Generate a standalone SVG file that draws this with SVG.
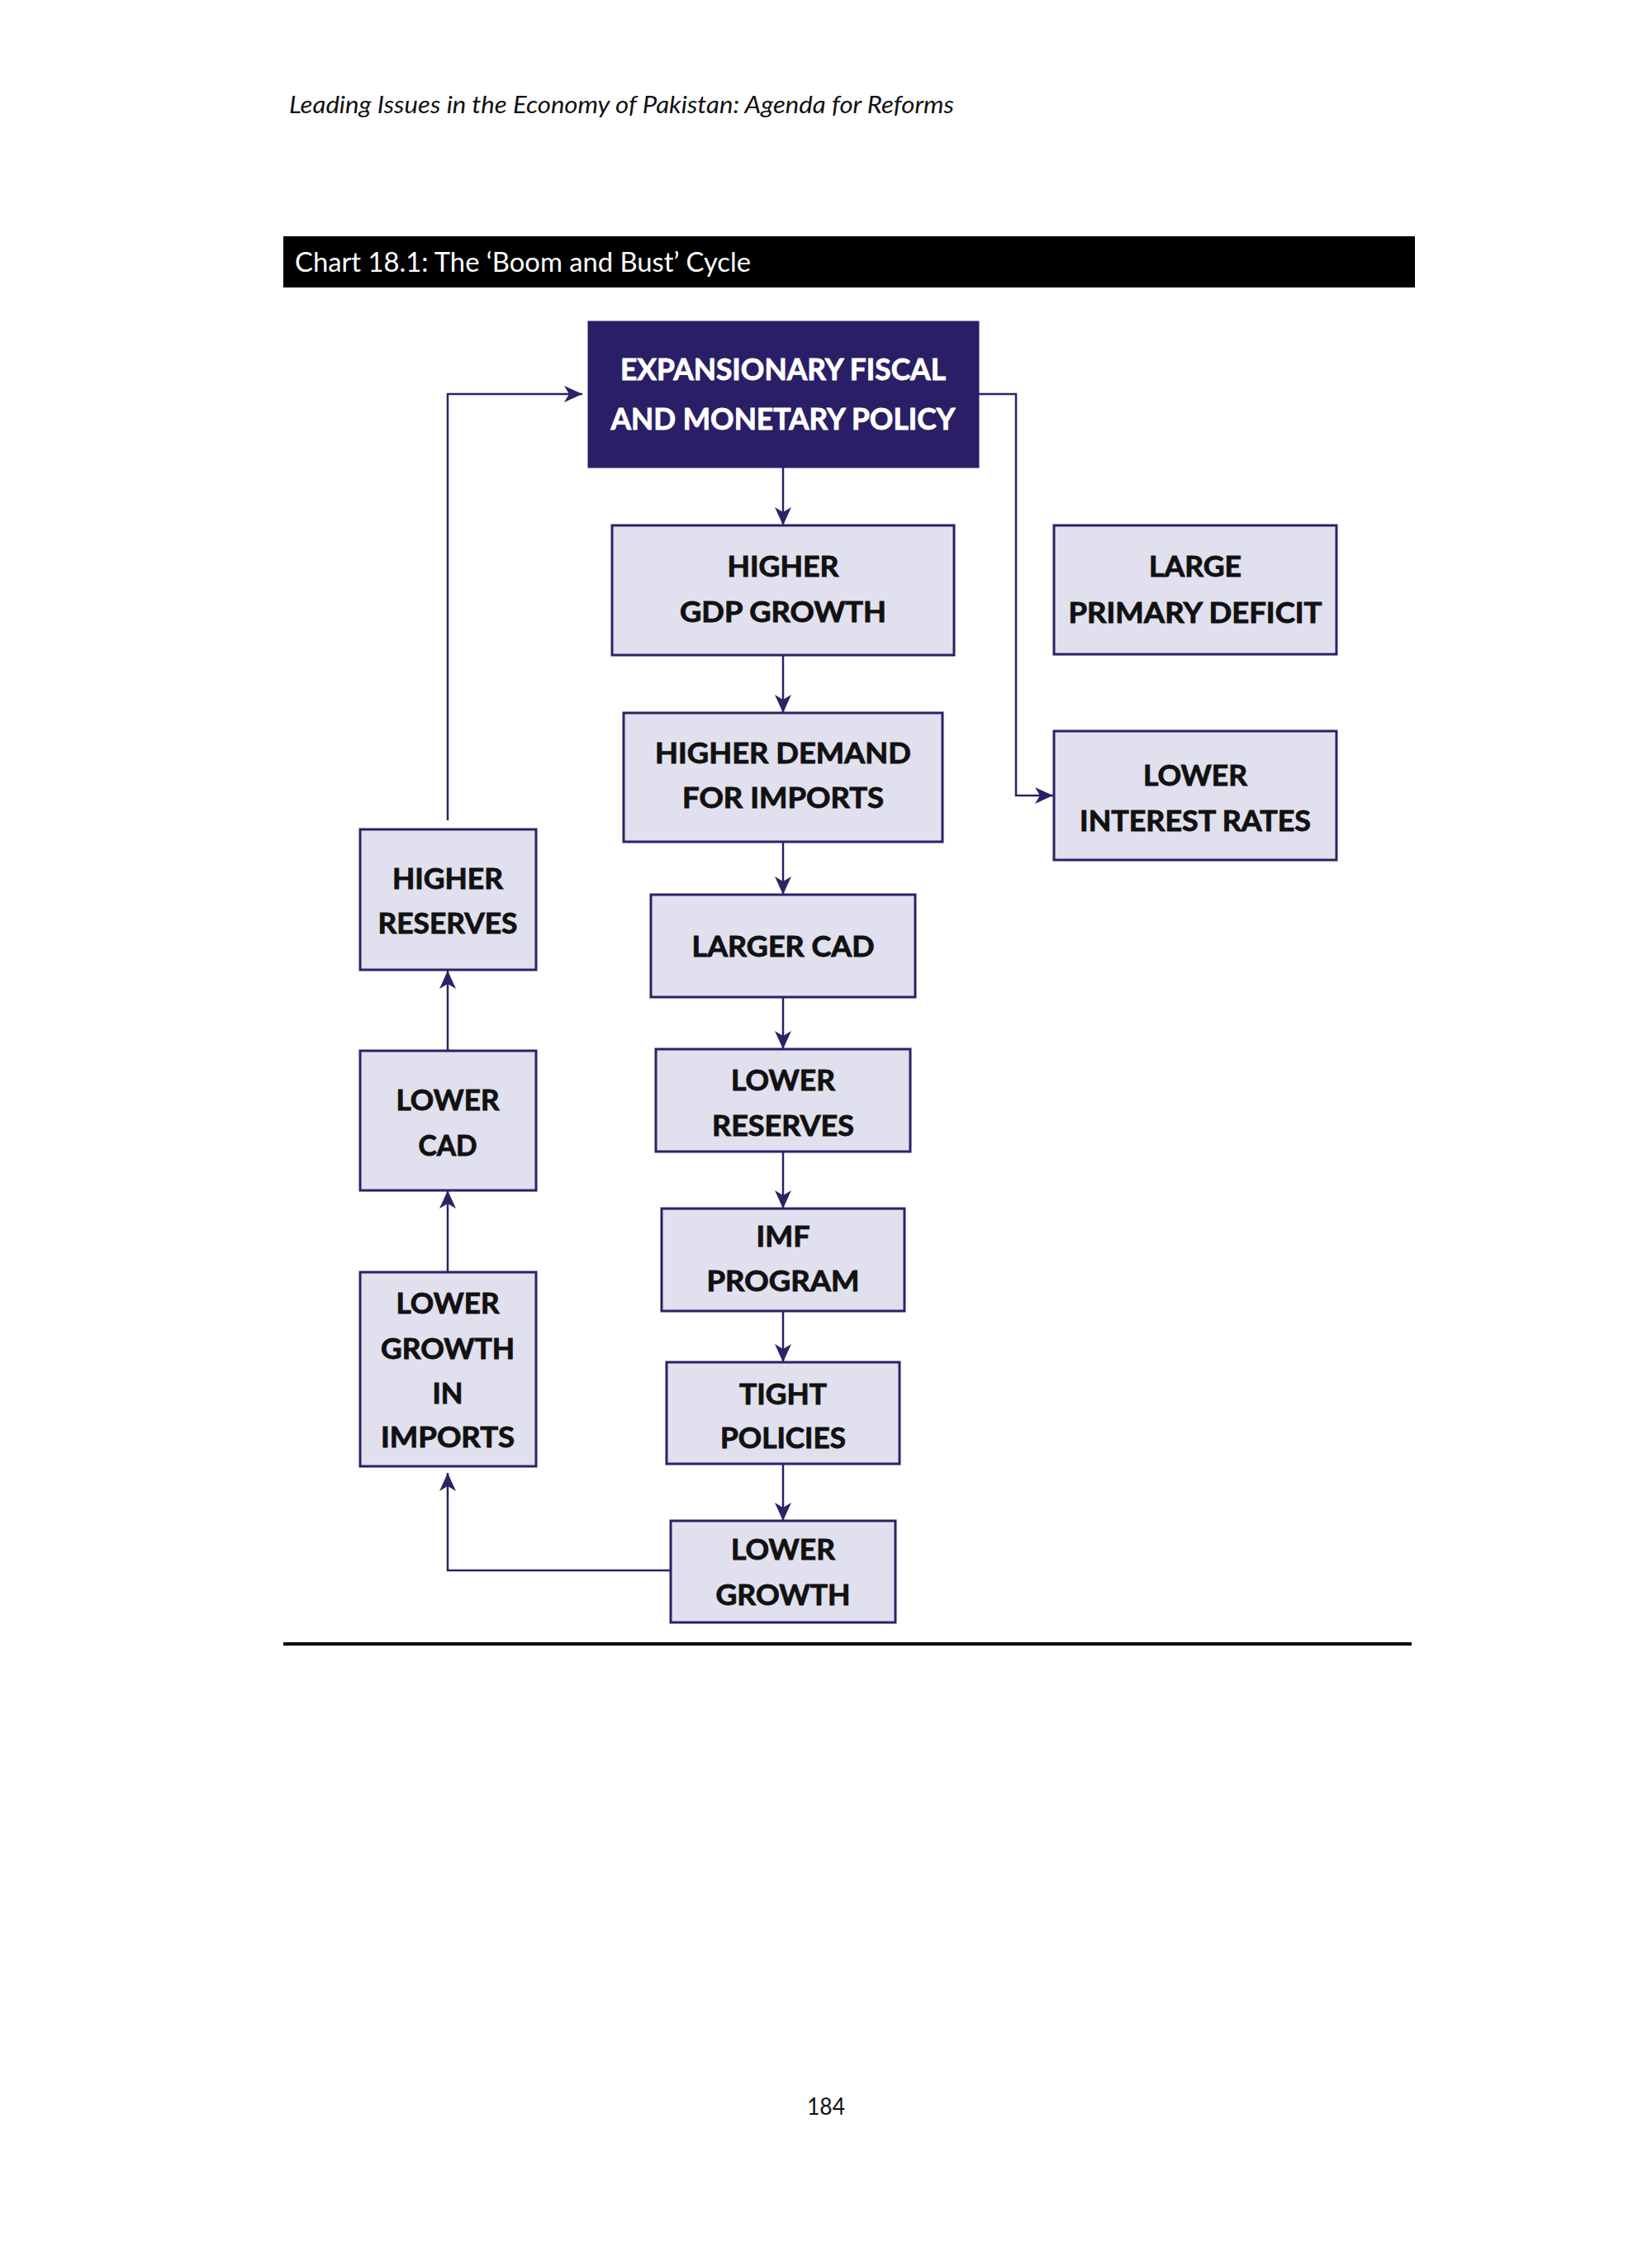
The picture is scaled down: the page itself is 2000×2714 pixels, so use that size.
<svg xmlns="http://www.w3.org/2000/svg" width="2000" height="2714" viewBox="0 0 2000 2714">
<style>
.box{fill:#e1e0ee;stroke:#2b2366;stroke-width:3}
.dark{fill:#2a1f66;stroke:#2a1f66;stroke-width:3}
.t{font-family:Lato,"Open Sans","Liberation Sans",sans-serif;font-weight:bold;font-size:35px;fill:#111;stroke:#111;stroke-width:0.9;text-anchor:middle}
.tw{fill:#ffffff;stroke:#ffffff;font-size:37px}
.con{fill:none;stroke:#2b2366;stroke-width:2.5}
</style>
<defs>
<marker id="arr" viewBox="0 0 22 20" refX="22" refY="10" markerWidth="22" markerHeight="20" markerUnits="userSpaceOnUse" orient="auto">
<path d="M0,0 L22,10 L0,20 L6,10 Z" fill="#2b2366"/>
</marker>
</defs>
<rect width="2000" height="2714" fill="#ffffff"/>
<text x="350" y="137" font-family="Lato,'Open Sans',sans-serif" font-style="italic" font-size="28" fill="#111" textLength="805" lengthAdjust="spacingAndGlyphs">Leading Issues in the Economy of Pakistan: Agenda for Reforms</text>
<rect x="343" y="286" width="1370" height="62" fill="#000"/>
<text x="357" y="329" font-family="Lato,'Open Sans',sans-serif" font-size="33" fill="#fff" textLength="552" lengthAdjust="spacingAndGlyphs">Chart 18.1: The ‘Boom and Bust’ Cycle</text>

<g id="connectors">
<path class="con" d="M948,565 V636" marker-end="url(#arr)"/>
<path class="con" d="M948,793 V863" marker-end="url(#arr)"/>
<path class="con" d="M948,1019 V1083" marker-end="url(#arr)"/>
<path class="con" d="M948,1207 V1270" marker-end="url(#arr)"/>
<path class="con" d="M948,1394 V1463" marker-end="url(#arr)"/>
<path class="con" d="M948,1587 V1649" marker-end="url(#arr)"/>
<path class="con" d="M948,1768 V1841" marker-end="url(#arr)"/>
<path class="con" d="M812,1901 H542 V1783" marker-end="url(#arr)"/>
<path class="con" d="M542,1540 V1441" marker-end="url(#arr)"/>
<path class="con" d="M542,1272 V1175" marker-end="url(#arr)"/>
<path class="con" d="M542,993 V477 H705" marker-end="url(#arr)"/>
<path class="con" d="M1184,477 H1230 V963 H1275" marker-end="url(#arr)"/>
</g>

<g id="expansionary">
<rect class="dark" x="713" y="390" width="471" height="175"/>
<text class="t tw" x="948" y="460" textLength="394" lengthAdjust="spacingAndGlyphs">EXPANSIONARY FISCAL</text>
<text class="t tw" x="948" y="520" textLength="417" lengthAdjust="spacingAndGlyphs">AND MONETARY POLICY</text>
</g>
<g id="gdp">
<rect class="box" x="741" y="636" width="414" height="157"/>
<text class="t" x="948" y="698" textLength="135" lengthAdjust="spacingAndGlyphs">HIGHER</text>
<text class="t" x="948" y="753" textLength="250" lengthAdjust="spacingAndGlyphs">GDP GROWTH</text>
</g>
<g id="deficit">
<rect class="box" x="1276" y="636" width="342" height="156"/>
<text class="t" x="1447" y="698" textLength="112" lengthAdjust="spacingAndGlyphs">LARGE</text>
<text class="t" x="1447" y="754" textLength="307" lengthAdjust="spacingAndGlyphs">PRIMARY DEFICIT</text>
</g>
<g id="interest">
<rect class="box" x="1276" y="885" width="342" height="156"/>
<text class="t" x="1447" y="951" textLength="126" lengthAdjust="spacingAndGlyphs">LOWER</text>
<text class="t" x="1447" y="1006" textLength="280" lengthAdjust="spacingAndGlyphs">INTEREST RATES</text>
</g>
<g id="demand">
<rect class="box" x="755" y="863" width="386" height="156"/>
<text class="t" x="948" y="924" textLength="310" lengthAdjust="spacingAndGlyphs">HIGHER DEMAND</text>
<text class="t" x="948" y="978" textLength="244" lengthAdjust="spacingAndGlyphs">FOR IMPORTS</text>
</g>
<g id="largercad">
<rect class="box" x="788" y="1083" width="320" height="124"/>
<text class="t" x="948" y="1158" textLength="221" lengthAdjust="spacingAndGlyphs">LARGER CAD</text>
</g>
<g id="lowerreserves">
<rect class="box" x="794" y="1270" width="308" height="124"/>
<text class="t" x="948" y="1320" textLength="126" lengthAdjust="spacingAndGlyphs">LOWER</text>
<text class="t" x="948" y="1375" textLength="172" lengthAdjust="spacingAndGlyphs">RESERVES</text>
</g>
<g id="imf">
<rect class="box" x="801" y="1463" width="294" height="124"/>
<text class="t" x="948" y="1509" textLength="65" lengthAdjust="spacingAndGlyphs">IMF</text>
<text class="t" x="948" y="1563" textLength="185" lengthAdjust="spacingAndGlyphs">PROGRAM</text>
</g>
<g id="tight">
<rect class="box" x="807" y="1649" width="282" height="123"/>
<text class="t" x="948" y="1700" textLength="106" lengthAdjust="spacingAndGlyphs">TIGHT</text>
<text class="t" x="948" y="1753" textLength="152" lengthAdjust="spacingAndGlyphs">POLICIES</text>
</g>
<g id="lowergrowth">
<rect class="box" x="812" y="1841" width="272" height="123"/>
<text class="t" x="948" y="1888" textLength="126" lengthAdjust="spacingAndGlyphs">LOWER</text>
<text class="t" x="948" y="1943" textLength="163" lengthAdjust="spacingAndGlyphs">GROWTH</text>
</g>
<g id="higherreserves">
<rect class="box" x="436" y="1004" width="213" height="170"/>
<text class="t" x="542" y="1076" textLength="134" lengthAdjust="spacingAndGlyphs">HIGHER</text>
<text class="t" x="542" y="1130" textLength="169" lengthAdjust="spacingAndGlyphs">RESERVES</text>
</g>
<g id="lowercad">
<rect class="box" x="436" y="1272" width="213" height="169"/>
<text class="t" x="542" y="1344" textLength="125" lengthAdjust="spacingAndGlyphs">LOWER</text>
<text class="t" x="542" y="1399" textLength="71" lengthAdjust="spacingAndGlyphs">CAD</text>
</g>
<g id="lowergrowthimports">
<rect class="box" x="436" y="1540" width="213" height="235"/>
<text class="t" x="542" y="1590" textLength="125" lengthAdjust="spacingAndGlyphs">LOWER</text>
<text class="t" x="542" y="1645" textLength="162" lengthAdjust="spacingAndGlyphs">GROWTH</text>
<text class="t" x="542" y="1699" textLength="37" lengthAdjust="spacingAndGlyphs">IN</text>
<text class="t" x="542" y="1752" textLength="162" lengthAdjust="spacingAndGlyphs">IMPORTS</text>
</g>
<rect x="343" y="1988" width="1366" height="4" fill="#000"/>
<text x="1000" y="2560" font-family="Lato,'Open Sans',sans-serif" font-size="29" fill="#111" text-anchor="middle" textLength="46" lengthAdjust="spacingAndGlyphs">184</text>
</svg>
